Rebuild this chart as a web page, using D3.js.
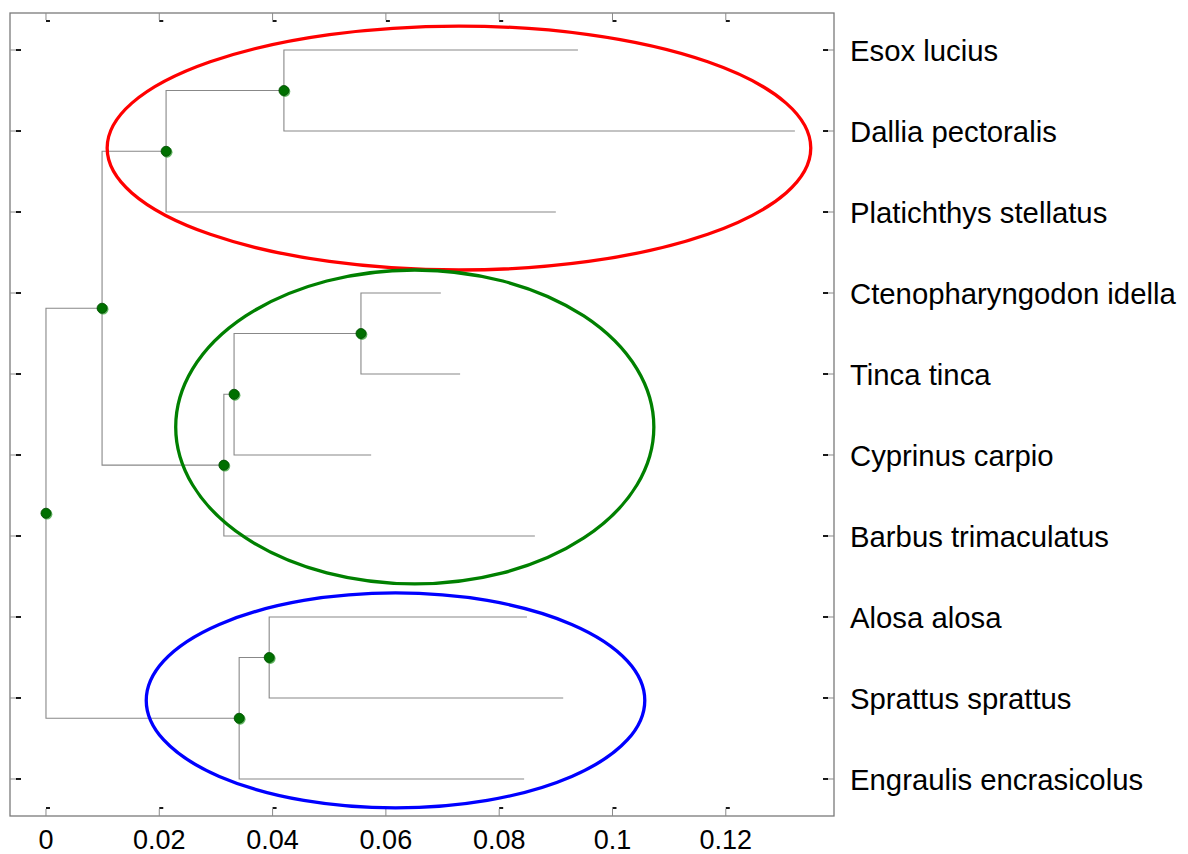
<!DOCTYPE html>
<html>
<head>
<meta charset="utf-8">
<script src="https://cdn.jsdelivr.net/npm/d3@7"></script>
<style>
  body { margin: 0; background: #fff; }
  svg { display: block; font-family: "Liberation Sans", Arial, sans-serif; }
</style>
</head>
<body>
<svg id="chart" width="1188" height="854"></svg>
<script>
// leaves, top to bottom
const leafNames = ['Esox lucius', 'Dallia pectoralis', 'Platichthys stellatus',
  'Ctenopharyngodon idella', 'Tinca tinca', 'Cyprinus carpio', 'Barbus trimaculatus',
  'Alosa alosa', 'Sprattus sprattus', 'Engraulis encrasicolus'];
const leafX = [0.0939, 0.1322, 0.0900, 0.0697, 0.0731, 0.0574, 0.0863, 0.0849, 0.0913, 0.0844];

// internal nodes: ids 11..19, children refer to leaves 1..10 or earlier nodes
const nodeLeft  = [1, 11, 4, 13, 14, 12, 8, 17, 16];
const nodeRight = [2, 3, 5, 6, 7, 15, 9, 10, 18];
const nodeX     = [0.0420, 0.0212, 0.0556, 0.0332, 0.0314, 0.0099, 0.0394, 0.0341, 0];

// cluster ellipses (data units)
const ellipseCx = [0.0729, 0.0651, 0.0617];
const ellipseCy = [2.21, 5.654, 9.03];
const ellipseRx = [0.0621, 0.0422, 0.0440];
const ellipseRy = [1.506, 1.938, 1.327];
const ellipseColors = ['#ff0000', '#008000', '#0000ff'];

const xTicks = [0, 0.02, 0.04, 0.06, 0.08, 0.1, 0.12];

const svg = d3.select('#chart');
const frame = { left: 10, right: 834, top: 13, bottom: 816 };

const x = d3.scaleLinear().domain([-0.00635, 0.1391]).range([frame.left, frame.right]);
const y = d3.scaleLinear().domain([0.543, 10.457]).range([frame.top, frame.bottom]);

// positions of all nodes
const pos = {};
leafNames.forEach((n, i) => { pos[i + 1] = { x: leafX[i], y: i + 1 }; });
nodeX.forEach((v, i) => {
  const a = pos[nodeLeft[i]], b = pos[nodeRight[i]];
  pos[i + 11] = { x: v, y: (a.y + b.y) / 2 };
});

// frame
svg.append('rect')
  .attr('x', frame.left).attr('y', frame.top)
  .attr('width', frame.right - frame.left).attr('height', frame.bottom - frame.top)
  .attr('fill', 'none').attr('stroke', '#7a7a7a').attr('stroke-width', 1.3);

// ticks: gray stub + small black dash
const tickG = svg.append('g');
xTicks.forEach(t => {
  const px = x(t);
  [[frame.top, 1], [frame.bottom, -1]].forEach(([y0, dir]) => {
    tickG.append('line').attr('x1', px).attr('x2', px)
      .attr('y1', y0).attr('y2', y0 + dir * 7).attr('stroke', '#8a8a8a');
    tickG.append('line').attr('x1', px).attr('x2', px + 4)
      .attr('y1', y0 + dir * 8).attr('y2', y0 + dir * 8).attr('stroke', '#000').attr('stroke-width', 1.8);
  });
});
leafNames.forEach((n, i) => {
  const py = y(i + 1);
  [[frame.left, 1], [frame.right, -1]].forEach(([x0, dir]) => {
    tickG.append('line').attr('x1', x0).attr('x2', x0 + dir * 7)
      .attr('y1', py).attr('y2', py).attr('stroke', '#8a8a8a');
    tickG.append('line').attr('x1', x0 + dir * 6).attr('x2', x0 + dir * 11)
      .attr('y1', py).attr('y2', py).attr('stroke', '#000').attr('stroke-width', 1.8);
  });
});

// x tick labels
svg.append('g').selectAll('text').data(xTicks).join('text')
  .attr('x', d => x(d)).attr('y', 849)
  .attr('text-anchor', 'middle')
  .attr('font-size', 27)
  .attr('fill', '#000')
  .text(d => d3.format('~g')(d));

// leaf labels
svg.append('g').selectAll('text').data(leafNames).join('text')
  .attr('x', 850).attr('y', (d, i) => y(i + 1))
  .attr('dy', '0.36em')
  .attr('font-size', 29.3)
  .attr('fill', '#000')
  .text(d => d);

// dendrogram branches
svg.append('g').selectAll('path').data(nodeX).join('path')
  .attr('d', (v, i) => {
    const a = pos[nodeLeft[i]], b = pos[nodeRight[i]];
    return `M${x(a.x)},${y(a.y)}H${x(v)}V${y(b.y)}H${x(b.x)}`;
  })
  .attr('fill', 'none').attr('stroke', '#888').attr('stroke-width', 1.1);

// ellipses
svg.append('g').selectAll('ellipse').data(ellipseCx).join('ellipse')
  .attr('cx', d => x(d))
  .attr('cy', (d, i) => y(ellipseCy[i]))
  .attr('rx', (d, i) => x(ellipseRx[i]) - x(0))
  .attr('ry', (d, i) => y(ellipseRy[i]) - y(0))
  .attr('fill', 'none')
  .attr('stroke', (d, i) => ellipseColors[i])
  .attr('stroke-width', 3.3);

// node markers
const dots = svg.append('g');
nodeX.forEach((v, i) => {
  const p = pos[i + 11];
  dots.append('circle').attr('cx', x(p.x) + 1).attr('cy', y(p.y) + 1).attr('r', 5.4)
    .attr('fill', '#1f9a1f').attr('opacity', 0.7);
  dots.append('circle').attr('cx', x(p.x)).attr('cy', y(p.y)).attr('r', 5)
    .attr('fill', '#007000').attr('stroke', '#004a00').attr('stroke-width', 0.8);
});
</script>
</body>
</html>
